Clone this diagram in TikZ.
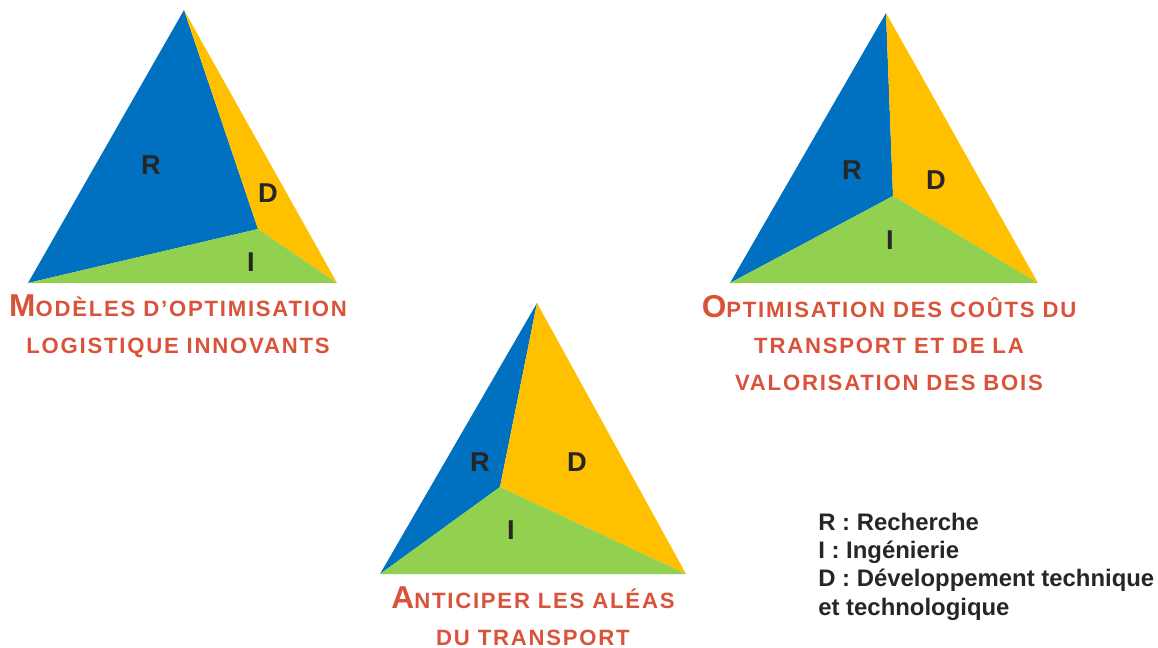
\documentclass[tikz,border=0pt]{standalone}
\usepackage{fontspec}
\setmainfont{Liberation Sans}
\newfontfamily\titrefont[LetterSpace=8]{Liberation Sans}
\definecolor{bleuR}{RGB}{0,112,192}
\definecolor{jauneD}{RGB}{255,192,0}
\definecolor{vertI}{RGB}{146,208,80}
\definecolor{titreC}{RGB}{217,83,58}
\definecolor{lettreC}{RGB}{38,38,38}
\newcommand{\Cap}[1]{{\fontsize{18}{21}\selectfont #1}}
\tikzset{
  lettre/.style={text=lettreC,font=\fontsize{15.5}{18}\selectfont\bfseries},
  titre/.style={text=titreC,align=center,font=\titrefont\fontsize{12.6}{21}\selectfont\bfseries},
  legende/.style={text=lettreC,align=left,font=\fontsize{13.6}{16}\selectfont\bfseries}
}
\begin{document}
\begin{tikzpicture}[x=0.02cm,y=-0.02cm]
  \useasboundingbox (0,0) rectangle (1158,648);
  % triangle 1
  \coordinate (s1) at (184,10); \coordinate (g1) at (28,283);
  \coordinate (d1) at (337,283); \coordinate (c1) at (258,229);
  \fill[bleuR] (s1)--(g1)--(c1)--cycle;
  \fill[jauneD] (s1)--(c1)--(d1)--cycle;
  \fill[vertI] (g1)--(c1)--(d1)--cycle;
  \node[lettre] (r1) at (151,165) {R};
  \node[lettre] (dd1) at (268,193) {D};
  \node[lettre] (i1) at (251,262) {I};
  \node[titre] (t1) at (178,326) {\Cap{M}ODÈLES D’OPTIMISATION\\ LOGISTIQUE INNOVANTS};
  % triangle 2
  \coordinate (s2) at (886,13); \coordinate (g2) at (730,283);
  \coordinate (d2) at (1038,283); \coordinate (c2) at (893,196);
  \fill[bleuR] (s2)--(g2)--(c2)--cycle;
  \fill[jauneD] (s2)--(c2)--(d2)--cycle;
  \fill[vertI] (g2)--(c2)--(d2)--cycle;
  \node[lettre] (r2) at (852,170) {R};
  \node[lettre] (dd2) at (936,180) {D};
  \node[lettre] (i2) at (890,240) {I};
  \node[titre] (t2) at (889,343) {\Cap{O}PTIMISATION DES COÛTS DU\\ TRANSPORT ET DE LA\\ VALORISATION DES BOIS};
  % triangle 3
  \coordinate (s3) at (537,303); \coordinate (g3) at (380,574);
  \coordinate (d3) at (686,574); \coordinate (c3) at (500,487);
  \fill[bleuR] (s3)--(g3)--(c3)--cycle;
  \fill[jauneD] (s3)--(c3)--(d3)--cycle;
  \fill[vertI] (g3)--(c3)--(d3)--cycle;
  \node[lettre] (r3) at (480,462) {R};
  \node[lettre] (dd3) at (577,462) {D};
  \node[lettre] (i3) at (511,530) {I};
  \node[titre,inner sep=1pt] (t3) at (533,616) {\Cap{A}NTICIPER LES ALÉAS\\ DU TRANSPORT};
  % legende
  \node[legende,anchor=north west,inner sep=0pt] (leg) at (818,513)
    {R : Recherche\\ I : Ingénierie\\ D : Développement technique\\ et technologique};
\end{tikzpicture}
\end{document}
